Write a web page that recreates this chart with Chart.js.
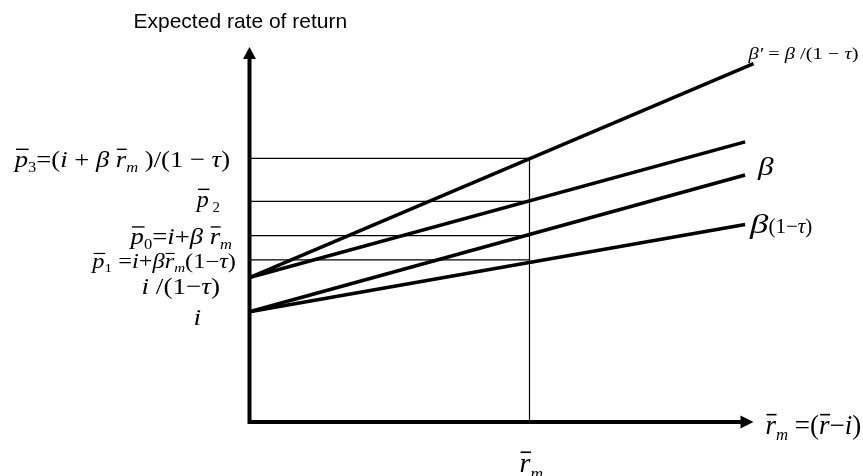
<!DOCTYPE html>
<html>
<head>
<meta charset="utf-8">
<script src="https://cdn.jsdelivr.net/npm/chart.js@4/dist/chart.umd.min.js"></script>
<style>
  body { margin: 0; background: #fff; }
</style>
</head>
<body>
<canvas id="chart" width="863" height="476"></canvas>
<script>
// values (x: r_m = 1, y: i = 1)
const rmValue = 1;
const xMax = 1.8;
const yMax = 3.4;

const lineNames = ['β′', 'β (from i/(1−τ))', 'β', 'β(1−τ)'];
const lineStartY = [1.31, 1.31, 1.0, 1.0];
const lineEndX = [1.8, 1.77, 1.77, 1.77];
const lineEndY = [3.25, 2.54, 2.24, 1.79];

const levelNames = ['p3', 'p2', 'p0', 'p1'];
const levelValues = [2.39, 2.0, 1.69, 1.47];

const interceptNames = ['i/(1−τ)', 'i'];
const interceptValues = [1.31, 1.0];

// label text pieces: [text, flags, size factor, width factor]  i = italic, b = overbar, s = subscript
const levelLabels = [
    [['p', 'ib'], ['3', 's'], ['=(', ''], ['i', 'i'], [' + ', ''], ['β', 'i'], [' ', ''], ['r', 'ib'], ['m', 'is'], [' )/(1 − ', ''], ['τ', 'i'], [')', '']],
    [['p', 'ib'], [' 2', 's']],
    [['p', 'ib'], ['0', 's'], ['=', ''], ['i', 'i'], ['+', ''], ['β', 'i'], [' ', ''], ['r', 'ib'], ['m', 'is']],
    [['p', 'ib'], ['1', 's'], [' =', ''], ['i', 'i'], ['+', ''], ['β', 'i'], ['r', 'ib'], ['m', 'is'], ['(1−', ''], ['τ', 'i'], [')', '']]
];
const interceptLabels = [
    [['i', 'i'], [' /(1−', ''], ['τ', 'i'], [')', '']],
    [['i', 'i']]
];
const lineLabels = [
    [['β′', 'i'], [' = ', ''], ['β', 'i'], [' /(1 − ', ''], ['τ', 'i'], [')', '']],
    null,
    [['β', 'i']],
    [['β', 'i', 1.3, 1.35], ['(1−', ''], ['τ', 'i'], [')', '']]
];
const xAxisLabel = [['r', 'ib'], ['m', 'is'], [' =(', ''], ['r', 'ib'], ['−', ''], ['i', 'i'], [')', '']];
const rmLabel = [['r', 'ib'], ['m', 'is']];
const yAxisTitle = 'Expected rate of return';

function pieceSize(p, size) {
    let s = p[1].includes('s') ? size * 0.62 : size;
    return s * (p[2] || 1);
}

function pieceFont(p, size) {
    return (p[1].includes('i') ? 'italic ' : '') + pieceSize(p, size) + 'px "Liberation Serif", "Times New Roman", serif';
}

function drawMath(ctx, parts, x, y, size, align, stretch) {
    const sx = stretch || 1;
    const widths = parts.map(p => {
        ctx.font = pieceFont(p, size);
        return ctx.measureText(p[0]).width * (p[3] || 1);
    });
    const total = widths.reduce((a, b) => a + b, 0) * sx;
    const startX = align === 'right' ? x - total : align === 'center' ? x - total / 2 : x;
    const base = y + size * 0.3;
    ctx.save();
    ctx.translate(startX, 0);
    ctx.scale(sx, 1);
    ctx.fillStyle = '#000';
    ctx.strokeStyle = '#000';
    ctx.textAlign = 'left';
    ctx.textBaseline = 'alphabetic';
    let cx = 0;
    parts.forEach((p, k) => {
        ctx.font = pieceFont(p, size);
        const by = p[1].includes('s') ? base + size * 0.22 : base;
        ctx.save();
        ctx.translate(cx, by);
        ctx.scale(p[3] || 1, 1);
        ctx.fillText(p[0], 0, 0);
        ctx.restore();
        if (p[1].includes('b')) {
            ctx.lineWidth = Math.max(1, size * 0.06);
            ctx.beginPath();
            ctx.moveTo(cx + widths[k] * 0.1, base - size * 0.72);
            ctx.lineTo(cx + widths[k] * 1.05, base - size * 0.72);
            ctx.stroke();
        }
        cx += widths[k];
    });
    ctx.restore();
}

const datasets = [];

// thin guide lines at the p levels and at r_m
levelValues.forEach((v, k) => {
    datasets.push({
        label: levelNames[k],
        data: [{ x: 0, y: v }, { x: rmValue, y: v }],
        borderColor: '#000',
        borderWidth: 1.2,
        pointRadius: 0,
        clip: false
    });
});
datasets.push({
    label: 'r_m',
    data: [{ x: rmValue, y: 0 }, { x: rmValue, y: levelValues[0] }],
    borderColor: '#000',
    borderWidth: 1.2,
    pointRadius: 0,
    clip: false
});

// the four return lines
lineNames.forEach((name, k) => {
    datasets.push({
        label: name,
        data: [{ x: 0, y: lineStartY[k] }, { x: lineEndX[k], y: lineEndY[k] }],
        borderColor: '#000',
        borderWidth: 3.5,
        pointRadius: 0,
        clip: false
    });
});

const annotations = {
    id: 'annotations',
    afterDatasetsDraw(chart) {
        const ctx = chart.ctx;
        const xs = chart.scales.x;
        const ys = chart.scales.y;
        const area = chart.chartArea;
        ctx.save();

        // axes with arrow heads
        ctx.strokeStyle = '#000';
        ctx.fillStyle = '#000';
        ctx.lineWidth = 4;
        ctx.beginPath();
        ctx.moveTo(area.left, area.bottom + 2);
        ctx.lineTo(area.left, area.top + 10);
        ctx.moveTo(area.left - 2, area.bottom);
        ctx.lineTo(area.right - 10, area.bottom);
        ctx.stroke();
        ctx.beginPath();
        ctx.moveTo(area.left, area.top);
        ctx.lineTo(area.left - 6.5, area.top + 12);
        ctx.lineTo(area.left + 6.5, area.top + 12);
        ctx.closePath();
        ctx.moveTo(area.right, area.bottom);
        ctx.lineTo(area.right - 13, area.bottom - 6.5);
        ctx.lineTo(area.right - 13, area.bottom + 6.5);
        ctx.closePath();
        ctx.fill();

        // y axis title
        ctx.font = '21px "Liberation Sans", Arial, sans-serif';
        ctx.textAlign = 'left';
        ctx.textBaseline = 'alphabetic';
        ctx.fillText(yAxisTitle, area.left - 116, 28);

        // labels at the left
        const levelRight = [230, 220, 232, 236];
        const levelSize = [24, 24, 23, 20];
        const levelStretch = [1.11, 1.0, 1.16, 1.22];
        const levelDy = [1, -2, 1, 2];
        levelLabels.forEach((parts, k) => {
            drawMath(ctx, parts, levelRight[k], ys.getPixelForValue(levelValues[k]) + levelDy[k], levelSize[k], 'right', levelStretch[k]);
        });
        const interceptRight = [220, 201];
        const interceptDy = [9, 6];
        interceptLabels.forEach((parts, k) => {
            drawMath(ctx, parts, interceptRight[k], ys.getPixelForValue(interceptValues[k]) + interceptDy[k], 24, 'right', 1.13);
        });

        // labels at the right ends of the lines
        drawMath(ctx, lineLabels[0], xs.getPixelForValue(lineEndX[0]) - 5, ys.getPixelForValue(lineEndY[0]) - 10, 17, 'left', 1.2);
        drawMath(ctx, lineLabels[2], xs.getPixelForValue(lineEndX[2]) + 13, ys.getPixelForValue(lineEndY[2]) - 7, 25, 'left', 1.25);
        drawMath(ctx, lineLabels[3], xs.getPixelForValue(lineEndX[3]) + 5, ys.getPixelForValue(lineEndY[3]) + 2, 21, 'left');

        // x axis labels
        drawMath(ctx, xAxisLabel, area.right + 12, area.bottom + 4, 27, 'left');
        drawMath(ctx, rmLabel, xs.getPixelForValue(rmValue) - 10, area.bottom + 42, 28, 'left');

        ctx.restore();
    }
};

new Chart(document.getElementById('chart'), {
    type: 'line',
    data: { datasets: datasets },
    options: {
        responsive: false,
        animation: false,
        layout: {
            padding: { left: 249.5, right: 109.5, top: 47, bottom: 54 }
        },
        plugins: {
            legend: { display: false },
            tooltip: { enabled: false }
        },
        scales: {
            x: { type: 'linear', min: 0, max: xMax, display: false },
            y: { type: 'linear', min: 0, max: yMax, display: false }
        }
    },
    plugins: [annotations]
});
</script>
</body>
</html>
